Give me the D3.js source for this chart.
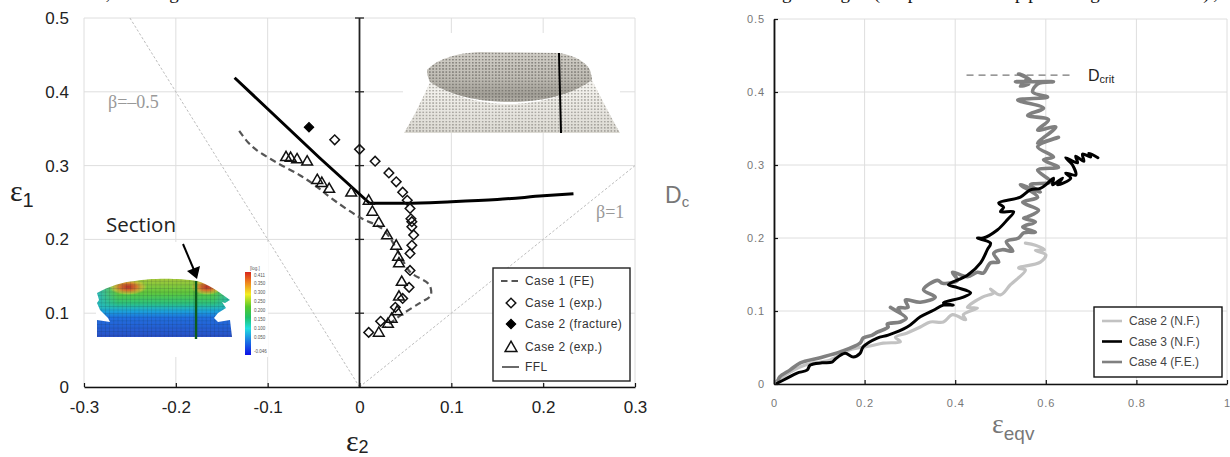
<!DOCTYPE html>
<html>
<head>
<meta charset="utf-8">
<script src="https://cdn.jsdelivr.net/npm/d3@7"></script>
<style>
  html, body { margin: 0; padding: 0; background: #fff; }
  svg { display: block; }
  text { font-family: "Liberation Sans", Arial, sans-serif; }
</style>
</head>
<body>
<div id="chart"></div>
<script>
// ---- left chart : forming limit diagram ----
const xTicksLeft = [-0.3, -0.2, -0.1, 0, 0.1, 0.2, 0.3];
const yTicksLeft = [0, 0.1, 0.2, 0.3, 0.4, 0.5];

const case1FE = [[-0.131, 0.347], [-0.121, 0.331], [-0.112, 0.321], [-0.090, 0.304], [-0.065, 0.287],
    [-0.046, 0.271], [-0.032, 0.257], [0.000, 0.230], [0.026, 0.213], [0.044, 0.179], [0.055, 0.156],
    [0.075, 0.140], [0.078, 0.131], [0.077, 0.123], [0.066, 0.114], [0.047, 0.099], [0.035, 0.088], [0.028, 0.081]];
const case1Exp = [[-0.027, 0.335], [0.000, 0.322], [0.017, 0.306], [0.032, 0.290], [0.040, 0.278], [0.047, 0.264],
    [0.052, 0.253], [0.055, 0.242], [0.056, 0.228], [0.057, 0.224], [0.057, 0.217], [0.059, 0.206], [0.057, 0.192],
    [0.055, 0.181], [0.055, 0.158], [0.054, 0.135], [0.047, 0.120], [0.039, 0.108], [0.023, 0.089], [0.010, 0.074]];
const case2Fracture = [[-0.055, 0.352]];
const case2Exp = [[-0.080, 0.311], [-0.075, 0.310], [-0.068, 0.308], [-0.057, 0.305], [-0.046, 0.280], [-0.041, 0.276],
    [-0.033, 0.268], [-0.009, 0.263], [0.010, 0.252], [0.014, 0.237], [0.021, 0.222], [0.030, 0.205], [0.040, 0.191],
    [0.042, 0.176], [0.043, 0.167], [0.046, 0.142], [0.043, 0.122], [0.041, 0.102], [0.035, 0.092], [0.031, 0.085], [0.021, 0.073]];
const fflLeftBranch = [[-0.136, 0.419], [-0.043, 0.310], [0.011, 0.249]];
const fflRightBranch = [[0.011, 0.249], [0.05, 0.249], [0.1, 0.251], [0.15, 0.254], [0.2, 0.259], [0.233, 0.262]];
const betaMinusHalf = [[-0.25, 0.5], [0, 0]];
const betaOne = [[0, 0], [0.3, 0.3]];
const legendLeft = ["Case 1 (FE)", "Case 1 (exp.)", "Case 2 (fracture)", "Case 2 (exp.)", "FFL"];

// colour bar of the FE picture
const barLabels = ["0.411", "0.350", "0.300", "0.250", "0.200", "0.150", "0.100", "0.050", "-0.046"];

// ---- right chart : damage ----
const xTicksRight = [0, 0.2, 0.4, 0.6, 0.8, 1];
const yTicksRight = [0, 0.1, 0.2, 0.3, 0.4, 0.5];

const case2NF = [[0.004, 0.003], [0.035, 0.016], [0.069, 0.026], [0.124, 0.033], [0.168, 0.047], [0.212, 0.052],
    [0.241, 0.056], [0.279, 0.058], [0.268, 0.064], [0.294, 0.070], [0.323, 0.078], [0.345, 0.085], [0.374, 0.085],
    [0.394, 0.095], [0.423, 0.088], [0.418, 0.095], [0.449, 0.104], [0.427, 0.105], [0.460, 0.119], [0.485, 0.125],
    [0.478, 0.130], [0.500, 0.122], [0.522, 0.136], [0.555, 0.156], [0.540, 0.159], [0.588, 0.167], [0.600, 0.177],
    [0.577, 0.183], [0.597, 0.184], [0.577, 0.190], [0.555, 0.193]];
const case3NF = [[0.007, 0.001], [0.029, 0.008], [0.051, 0.015], [0.073, 0.019], [0.080, 0.026], [0.106, 0.029],
    [0.128, 0.030], [0.135, 0.034], [0.157, 0.042], [0.175, 0.037], [0.190, 0.042], [0.197, 0.051], [0.228, 0.063],
    [0.252, 0.067], [0.294, 0.078], [0.323, 0.092], [0.352, 0.101], [0.374, 0.108], [0.396, 0.108], [0.374, 0.111],
    [0.418, 0.119], [0.434, 0.125], [0.405, 0.132], [0.385, 0.136], [0.427, 0.149], [0.456, 0.166], [0.471, 0.184],
    [0.478, 0.193], [0.449, 0.200], [0.462, 0.200], [0.493, 0.211], [0.515, 0.225], [0.529, 0.236], [0.500, 0.236],
    [0.507, 0.242], [0.496, 0.248], [0.544, 0.256], [0.566, 0.266], [0.588, 0.268], [0.604, 0.275], [0.617, 0.282],
    [0.615, 0.273], [0.637, 0.282], [0.626, 0.273], [0.655, 0.282], [0.644, 0.289], [0.666, 0.286], [0.659, 0.300],
    [0.644, 0.310], [0.670, 0.303], [0.666, 0.312], [0.684, 0.305], [0.681, 0.315], [0.699, 0.311], [0.695, 0.316],
    [0.715, 0.310]];
const case4FE = [[0.009, 0.005], [0.013, 0.010], [0.035, 0.019], [0.058, 0.029], [0.102, 0.036], [0.146, 0.044],
    [0.190, 0.056], [0.197, 0.063], [0.217, 0.067], [0.228, 0.071], [0.252, 0.078], [0.250, 0.082], [0.279, 0.085],
    [0.292, 0.090], [0.257, 0.105], [0.279, 0.097], [0.274, 0.104], [0.296, 0.105], [0.290, 0.115], [0.323, 0.112],
    [0.356, 0.119], [0.330, 0.129], [0.361, 0.142], [0.372, 0.138], [0.405, 0.142], [0.394, 0.153], [0.427, 0.147],
    [0.449, 0.153], [0.462, 0.152], [0.478, 0.166], [0.496, 0.167], [0.485, 0.179], [0.504, 0.184], [0.527, 0.182],
    [0.513, 0.195], [0.540, 0.200], [0.551, 0.207], [0.577, 0.208], [0.549, 0.215], [0.577, 0.222], [0.551, 0.227],
    [0.560, 0.229], [0.584, 0.238], [0.549, 0.249], [0.582, 0.256], [0.544, 0.273], [0.588, 0.263], [0.566, 0.273],
    [0.611, 0.277], [0.582, 0.293], [0.628, 0.297], [0.595, 0.307], [0.617, 0.311], [0.582, 0.325], [0.628, 0.338],
    [0.582, 0.330], [0.622, 0.352], [0.582, 0.348], [0.606, 0.362], [0.560, 0.368], [0.595, 0.378], [0.538, 0.389],
    [0.604, 0.393], [0.571, 0.400], [0.582, 0.411], [0.617, 0.414], [0.533, 0.414], [0.566, 0.416], [0.540, 0.425],
    [0.558, 0.419], [0.544, 0.408], [0.562, 0.411]];
const dCrit = [[0.425, 0.423], [0.661, 0.423]];
const legendRight = ["Case 2 (N.F.)", "Case 3 (N.F.)", "Case 4 (F.E.)"];

const svg = d3.select("#chart").append("svg").attr("width", 1230).attr("height", 457);
const defs = svg.append("defs");

const gridColor = "#dedede";
const xL = d3.scaleLinear().domain([-0.3, 0.3]).range([84, 635]);
const yL = d3.scaleLinear().domain([0, 0.5]).range([387, 18]);
const xR = d3.scaleLinear().domain([0, 1]).range([774, 1227]);
const yR = d3.scaleLinear().domain([0, 0.5]).range([384, 19]);

function grid(g, x, y, xTicks, yTicks) {
    g.selectAll("line.v").data(xTicks).join("line").attr("class", "v")
        .attr("x1", d => x(d)).attr("x2", d => x(d))
        .attr("y1", y.range()[0]).attr("y2", y.range()[1])
        .attr("stroke", gridColor).attr("stroke-width", 1);
    g.selectAll("line.h").data(yTicks).join("line").attr("class", "h")
        .attr("x1", x.range()[0]).attr("x2", x.range()[1])
        .attr("y1", d => y(d)).attr("y2", d => y(d))
        .attr("stroke", gridColor).attr("stroke-width", 1);
}

function vGradient(id, stops) {
    const g = defs.append("linearGradient").attr("id", id).attr("x1", 0).attr("x2", 0).attr("y1", 0).attr("y2", 1);
    stops.forEach(s => g.append("stop").attr("offset", s[0]).attr("stop-color", s[1]));
}

// caption line of the page above, only its descenders are in the picture
svg.append("text").attr("x", 4).attr("y", -1)
    .attr("textLength", 1214).attr("lengthAdjust", "spacing")
    .style("font-family", "'Liberation Serif', serif").style("font-size", "19px").attr("fill", "#111")
    .text("in the FE, being the Section and the located at a line close to the flange edge (caption at upper right corner),");

/* ===== LEFT CHART ===== */
const left = svg.append("g");
grid(left, xL, yL, xTicksLeft, yTicksLeft);

// pictures sit on a white box, they hide the grid
function drawDome() {
    const dots = defs.append("pattern").attr("id", "dots").attr("width", 3.3).attr("height", 3.1)
        .attr("patternUnits", "userSpaceOnUse");
    dots.append("rect").attr("width", 1.7).attr("height", 1.5).attr("fill", "#6f6c66").attr("fill-opacity", 0.75);
    defs.append("filter").attr("id", "soft").append("feGaussianBlur").attr("stdDeviation", 0.45);
    vGradient("cupFill", [[0, "#d2cfc8"], [0.5, "#c0bdb5"], [0.85, "#a29f97"], [1, "#b5b2aa"]]);
    vGradient("skirtFill", [[0, "#f5f4f0"], [0.35, "#efede8"], [1, "#dcdad3"]]);

    const skirt = "M430,82 C422,100 412,120 404,133 L620,133 C610,115 600,96 592,80 C570,95 540,104 510,104 C480,104 450,96 430,82 Z";
    const cup = "M427,70 C436,60 455,53 480,52 L559,53 C574,55 586,62 590,70 C591,74 592,78 592,80 C570,96 540,102 510,102 C480,102 450,96 430,82 C428,78 427,74 427,70 Z";
    const g = left.append("g");
    g.append("rect").attr("x", 403).attr("y", 33).attr("width", 217).attr("height", 100).attr("fill", "#fff");
    const soft = g.append("g").attr("filter", "url(#soft)");
    soft.append("path").attr("d", skirt).attr("fill", "url(#skirtFill)");
    soft.append("path").attr("d", skirt).attr("fill", "url(#dots)").attr("opacity", 0.7);
    soft.append("path").attr("d", cup).attr("fill", "url(#cupFill)");
    soft.append("path").attr("d", cup).attr("fill", "url(#dots)");
    g.append("line").attr("x1", 559).attr("y1", 53).attr("x2", 561).attr("y2", 133)
        .attr("stroke", "#000").attr("stroke-width", 2);
}

function drawFEMesh() {
    const g = left.append("g");
    g.append("rect").attr("x", 96).attr("y", 242).attr("width", 172).attr("height", 115).attr("fill", "#fff");

    vGradient("feFill", [[0, "#a9c83a"], [0.25, "#5fc83c"], [0.42, "#2ec47a"], [0.54, "#1da9d8"], [0.66, "#1f6fe0"], [1, "#2a4fc6"]]);
    const hot = defs.append("radialGradient").attr("id", "feHot");
    [[0, "#b8302a", 1], [0.45, "#d9742c", 0.95], [0.8, "#dfc33a", 0.6], [1, "#dfc33a", 0]]
        .forEach(s => hot.append("stop").attr("offset", s[0]).attr("stop-color", s[1]).attr("stop-opacity", s[2]));
    const edge = defs.append("linearGradient").attr("id", "feSide").attr("x1", 0).attr("x2", 1).attr("y1", 0).attr("y2", 0);
    [[0, "#27b9c4", 0.95], [0.16, "#27b9c4", 0], [0.85, "#27b9c4", 0], [1, "#27b9c4", 0.95]]
        .forEach(s => edge.append("stop").attr("offset", s[0]).attr("stop-color", s[1]).attr("stop-opacity", s[2]));
    const m = defs.append("pattern").attr("id", "feGrid").attr("width", 4.2).attr("height", 3.6).attr("patternUnits", "userSpaceOnUse");
    m.append("path").attr("d", "M0,0H4.2M0,0V3.6").attr("stroke", "#123").attr("stroke-opacity", 0.45).attr("stroke-width", 0.6).attr("fill", "none");

    const outline = "M97,293 C110,286 122,282 135,281 C150,278 180,278 197,281 C208,284 218,291 230,300 L225,303 L222,302 L226,308 L218,313 L214,318 L218,322 L230,320 L232,337 L97,337 L97,320 L110,322 L108,318 L100,310 L97,303 L99,300 Z";
    defs.append("clipPath").attr("id", "feClip").append("path").attr("d", outline);
    const body = g.append("g").attr("clip-path", "url(#feClip)").attr("filter", "url(#soft)");
    body.append("rect").attr("x", 96).attr("y", 278).attr("width", 138).attr("height", 60).attr("fill", "url(#feFill)");
    body.append("rect").attr("x", 96).attr("y", 278).attr("width", 138).attr("height", 30).attr("fill", "url(#feSide)");
    body.append("ellipse").attr("cx", 128).attr("cy", 287).attr("rx", 19).attr("ry", 8).attr("fill", "url(#feHot)");
    body.append("ellipse").attr("cx", 207).attr("cy", 287).attr("rx", 16).attr("ry", 8).attr("fill", "url(#feHot)");
    body.append("rect").attr("x", 96).attr("y", 278).attr("width", 138).attr("height", 60).attr("fill", "url(#feGrid)");

    g.append("line").attr("x1", 196).attr("y1", 281).attr("x2", 196).attr("y2", 339)
        .attr("stroke", "#0c5c1c").attr("stroke-width", 2.4);

    // colour bar
    vGradient("feBar", [[0, "#d8261c"], [0.12, "#ee7f1e"], [0.27, "#f3ee22"], [0.42, "#55c92c"], [0.55, "#1fc26a"], [0.68, "#22dfe0"], [0.82, "#1c80e4"], [1, "#0d10e6"]]);
    g.append("rect").attr("x", 245).attr("y", 272).attr("width", 6).attr("height", 83).attr("fill", "url(#feBar)");
    const barY = d3.scalePoint().domain(barLabels.slice(0, 8)).range([275, 337]);
    g.selectAll("text.bar").data(barLabels).join("text").attr("class", "bar")
        .attr("x", 254).attr("y", d => (d === "-0.046" ? 351 : barY(d)) + 1.5)
        .attr("fill", "#555").style("font-size", "4.5px").text(d => d);
    g.append("text").attr("x", 250).attr("y", 270).attr("fill", "#555").style("font-size", "4.5px").text("[log.]");
}
drawDome();
drawFEMesh();

const lineL = d3.line().x(d => xL(d[0])).y(d => yL(d[1]));
[betaMinusHalf, betaOne].forEach(d => {
    left.append("path").attr("d", lineL(d)).attr("fill", "none")
        .attr("stroke", "#bdbdbd").attr("stroke-width", 1).attr("stroke-dasharray", "2.5,2");
});

// axes
const xAxisL = d3.axisBottom(xL).tickValues(xTicksLeft).tickFormat(String).tickSizeInner(-4).tickSizeOuter(0).tickPadding(14);
const gxL = left.append("g").attr("transform", "translate(0," + yL(0) + ")").call(xAxisL);
gxL.select(".domain").attr("stroke", "#111").attr("stroke-width", 1.6);
gxL.selectAll(".tick line").attr("stroke", "#111").attr("stroke-width", 1.2);
gxL.selectAll("text").attr("fill", "#222").style("font-size", "17px").style("font-family", "'Liberation Sans', sans-serif");

const gyL = left.append("g").attr("transform", "translate(" + xL(-0.3) + ",0)")
    .call(d3.axisLeft(yL).tickValues(yTicksLeft).tickFormat(String).tickSize(0).tickPadding(15));
gyL.select(".domain").remove();
gyL.selectAll("text").attr("fill", "#222").style("font-size", "17px").style("font-family", "'Liberation Sans', sans-serif");

left.append("line").attr("x1", xL(0)).attr("x2", xL(0)).attr("y1", yL(0)).attr("y2", yL(0.5))
    .attr("stroke", "#222").attr("stroke-width", 1.8);
left.selectAll("line.ytick").data(yTicksLeft.slice(1)).join("line").attr("class", "ytick")
    .attr("x1", xL(0) - 4.5).attr("x2", xL(0) + 4.5).attr("y1", d => yL(d)).attr("y2", d => yL(d))
    .attr("stroke", "#222").attr("stroke-width", 1.3);

// series
const diamondPath = d3.symbol(d3.symbolSquare, 46)();
const trianglePath = d3.symbol(d3.symbolTriangle, 50)();
left.append("path").attr("d", d3.line().curve(d3.curveCatmullRom).x(d => xL(d[0])).y(d => yL(d[1]))(case1FE))
    .attr("fill", "none").attr("stroke", "#555").attr("stroke-width", 2.2).attr("stroke-dasharray", "6.5,4");
left.append("path").attr("d", lineL(fflLeftBranch)).attr("fill", "none").attr("stroke", "#000").attr("stroke-width", 3);
left.append("path").attr("d", d3.line().curve(d3.curveMonotoneX).x(d => xL(d[0])).y(d => yL(d[1]))(fflRightBranch))
    .attr("fill", "none").attr("stroke", "#000").attr("stroke-width", 3);
left.selectAll("path.d1").data(case1Exp).join("path").attr("class", "d1").attr("d", diamondPath)
    .attr("transform", d => "translate(" + xL(d[0]) + "," + yL(d[1]) + ") rotate(45)")
    .attr("fill", "none").attr("stroke", "#111").attr("stroke-width", 1.5);
left.selectAll("path.d2").data(case2Fracture).join("path").attr("class", "d2").attr("d", diamondPath)
    .attr("transform", d => "translate(" + xL(d[0]) + "," + yL(d[1]) + ") rotate(45)")
    .attr("fill", "#000").attr("stroke", "#000").attr("stroke-width", 1);
left.selectAll("path.t1").data(case2Exp).join("path").attr("class", "t1").attr("d", trianglePath)
    .attr("transform", d => "translate(" + xL(d[0]) + "," + yL(d[1]) + ")")
    .attr("fill", "none").attr("stroke", "#111").attr("stroke-width", 1.5);

// annotations
const serif = "'Liberation Serif', serif";
left.append("text").attr("x", 108).attr("y", 108).attr("fill", "#999").style("font-family", serif).style("font-size", "18px").text("β=–0.5");
left.append("text").attr("x", 596).attr("y", 218).attr("fill", "#999").style("font-family", serif).style("font-size", "18px").text("β=1");
left.append("text").attr("x", 106).attr("y", 232).attr("fill", "#222").style("font-family", "'Open Sans', sans-serif").style("font-size", "20.5px").text("Section");

const arrow = left.append("g");
arrow.append("line").attr("x1", 183).attr("y1", 244).attr("x2", 194).attr("y2", 270).attr("stroke", "#000").attr("stroke-width", 2);
arrow.append("path").attr("d", "M197,279 L187,271 L200,266 Z").attr("fill", "#000");

const e1 = left.append("text").attr("x", 10).attr("y", 201).attr("fill", "#222").style("font-family", serif).style("font-size", "30px");
e1.append("tspan").text("ε");
e1.append("tspan").attr("dy", 6).style("font-family", "'Liberation Sans', sans-serif").style("font-size", "20px").text("1");
const e2 = left.append("text").attr("x", 346).attr("y", 451).attr("fill", "#222").style("font-family", serif).style("font-size", "30px");
e2.append("tspan").text("ε");
e2.append("tspan").attr("dy", 2).style("font-family", "'Liberation Sans', sans-serif").style("font-size", "18px").text("2");

// legend
const legL = left.append("g");
legL.append("rect").attr("x", 493).attr("y", 268).attr("width", 137).attr("height", 113)
    .attr("fill", "#fff").attr("stroke", "#222").attr("stroke-width", 1.4);
const rowL = d3.scaleOrdinal().domain(legendLeft).range([281, 303, 324, 347, 367]);
legL.selectAll("text").data(legendLeft).join("text")
    .attr("x", 525).attr("y", d => rowL(d) + 4).attr("fill", "#333")
    .style("font-size", "12px").style("letter-spacing", "0.42px").text(d => d);
legL.append("line").attr("x1", 501).attr("x2", 520).attr("y1", rowL(legendLeft[0])).attr("y2", rowL(legendLeft[0]))
    .attr("stroke", "#555").attr("stroke-width", 2).attr("stroke-dasharray", "6.5,4");
legL.append("path").attr("d", diamondPath).attr("transform", "translate(511," + rowL(legendLeft[1]) + ") rotate(45)")
    .attr("fill", "#fff").attr("stroke", "#111").attr("stroke-width", 1.5);
legL.append("path").attr("d", diamondPath).attr("transform", "translate(511," + rowL(legendLeft[2]) + ") rotate(45)")
    .attr("fill", "#000").attr("stroke", "#000");
legL.append("path").attr("d", d3.symbol(d3.symbolTriangle, 60)()).attr("transform", "translate(511," + (rowL(legendLeft[3]) + 1) + ")")
    .attr("fill", "#fff").attr("stroke", "#111").attr("stroke-width", 1.5);
legL.append("line").attr("x1", 502).attr("x2", 519).attr("y1", rowL(legendLeft[4])).attr("y2", rowL(legendLeft[4]))
    .attr("stroke", "#444").attr("stroke-width", 1.6);

/* ===== RIGHT CHART ===== */
const right = svg.append("g");
grid(right, xR, yR, xTicksRight, yTicksRight);

const lineR = d3.line().curve(d3.curveCatmullRom.alpha(0.5)).x(d => xR(d[0])).y(d => yR(d[1]));
const curveR = (data, color, w) => right.append("path").attr("d", lineR(data)).attr("fill", "none")
    .attr("stroke", color).attr("stroke-width", w).attr("stroke-linejoin", "round").attr("stroke-linecap", "round");
curveR(case2NF, "#c2c2c2", 3.2);
curveR(case4FE, "#808080", 3.6);
curveR(case3NF, "#000", 3);

right.append("path").attr("d", d3.line().x(d => xR(d[0])).y(d => yR(d[1]))(dCrit)).attr("fill", "none")
    .attr("stroke", "#777").attr("stroke-width", 1.3).attr("stroke-dasharray", "7,5");

const gxR = right.append("g").attr("transform", "translate(0," + yR(0) + ")")
    .call(d3.axisBottom(xR).tickValues(xTicksRight).tickFormat(String).tickSizeInner(-4).tickSizeOuter(0).tickPadding(15.5));
gxR.select(".domain").attr("stroke", "#111").attr("stroke-width", 1.6);
gxR.selectAll(".tick line").attr("stroke", "#111").attr("stroke-width", 1.2);
const gyR = right.append("g").attr("transform", "translate(" + xR(0) + ",0)")
    .call(d3.axisLeft(yR).tickValues(yTicksRight).tickFormat(String).tickSizeInner(-4).tickSizeOuter(0).tickPadding(9));
gyR.select(".domain").attr("stroke", "#111").attr("stroke-width", 1.8);
gyR.selectAll(".tick line").attr("stroke", "#111").attr("stroke-width", 1.2);
right.selectAll(".tick text").attr("fill", "#777").style("font-size", "11px").style("letter-spacing", "0.9px")
    .style("font-family", "'Liberation Sans', sans-serif");

const dc = right.append("text").attr("x", 665).attr("y", 203).attr("fill", "#777").style("font-size", "23px");
dc.append("tspan").text("D");
dc.append("tspan").attr("dy", 4).style("font-size", "15px").text("c");
const eq = right.append("text").attr("x", 992).attr("y", 433).attr("fill", "#777").style("font-family", serif).style("font-size", "28px");
eq.append("tspan").text("ε");
eq.append("tspan").attr("dy", 7).style("font-family", "'Liberation Sans', sans-serif").style("font-size", "19px").text("eqv");
const dcrit = right.append("text").attr("x", 1088).attr("y", 81).attr("fill", "#222").style("font-size", "16px");
dcrit.append("tspan").text("D");
dcrit.append("tspan").attr("dy", 2).style("font-size", "11px").text("crit");

const legR = right.append("g");
legR.append("rect").attr("x", 1094).attr("y", 307).attr("width", 128).attr("height", 70)
    .attr("fill", "#fff").attr("stroke", "#111").attr("stroke-width", 1.4);
const legColors = ["#c2c2c2", "#000", "#808080"];
const rowR = d3.scalePoint().domain(legendRight).range([321, 362]);
legR.selectAll("line").data(legendRight).join("line")
    .attr("x1", 1102).attr("x2", 1122).attr("y1", d => rowR(d)).attr("y2", d => rowR(d))
    .attr("stroke", (d, i) => legColors[i]).attr("stroke-width", 2.6);
legR.selectAll("text").data(legendRight).join("text")
    .attr("x", 1129).attr("y", d => rowR(d) + 4).attr("fill", "#444")
    .style("font-size", "12px").text(d => d);
</script>
</body>
</html>
